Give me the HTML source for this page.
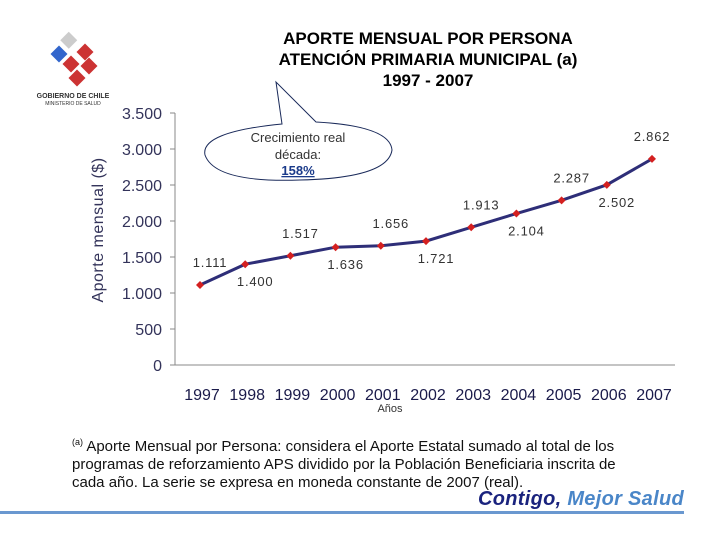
<!DOCTYPE html>
<html><head><meta charset="utf-8"><style>
body{margin:0;width:720px;height:540px;background:#fff;overflow:hidden;font-family:"Liberation Sans",sans-serif;position:relative}
.t{position:absolute}
</style></head><body>
<div class="t" style="left:28px;top:30px;width:90px;height:75px">
<svg width="90" height="75">
<g transform="translate(45,6)">
<rect x="-6" y="0" width="12" height="12" fill="#ccc" transform="rotate(45)"/>
<rect x="6" y="10" width="12" height="12" fill="#c33" transform="rotate(45 12 16)"/>
<rect x="-20" y="12" width="12" height="12" fill="#36c" transform="rotate(45 -14 18)"/>
<rect x="-8" y="22" width="12" height="12" fill="#c33" transform="rotate(45 -2 28)"/>
<rect x="10" y="24" width="12" height="12" fill="#c33" transform="rotate(45 16 30)"/>
<rect x="-2" y="36" width="12" height="12" fill="#c33" transform="rotate(45 4 42)"/>
</g>
<text x="45" y="68" font-size="7" font-weight="bold" text-anchor="middle" fill="#333">GOBIERNO DE CHILE</text>
<text x="45" y="75" font-size="5" text-anchor="middle" fill="#333">MINISTERIO DE SALUD</text>
</svg></div>
<div class="t" style="left:228px;top:28px;width:400px;text-align:center;font-size:17px;font-weight:bold;line-height:21px;color:#000">APORTE MENSUAL POR PERSONA<br>ATENCIÓN PRIMARIA MUNICIPAL (a)<br>1997 - 2007</div>
<svg id="c" class="t" style="left:0;top:0" width="720" height="540"></svg>
<div class="t" style="left:72px;top:433px;width:575px;font-size:15px;line-height:18px;color:#111"><sup style="font-size:9px">(a)</sup> Aporte Mensual por Persona: considera el Aporte Estatal sumado al total de los programas de reforzamiento APS dividido por la Población Beneficiaria inscrita de cada año. La serie se expresa en moneda constante de 2007 (real).</div>
<div class="t" style="left:478px;top:488px;font-size:20px;font-weight:bold;font-style:italic;color:#1a237e;letter-spacing:0.3px">Contigo, <span style="color:#4a86c8">Mejor Salud</span></div>
<div class="t" style="left:0;top:511px;width:684px;height:3px;background:#6a98d0"></div>
<script>
const years=["1997","1998","1999","2000","2001","2002","2003","2004","2005","2006","2007"];
const values=[1111,1400,1517,1636,1656,1721,1913,2104,2287,2502,2862];
const labels=["1.111","1.400","1.517","1.636","1.656","1.721","1.913","2.104","2.287","2.502","2.862"];
const ticks=[0,500,1000,1500,2000,2500,3000,3500];
const tickLabels=["0","500","1.000","1.500","2.000","2.500","3.000","3.500"];
const labelBelow=[false,true,false,true,false,true,false,true,false,true,false];
const NS="http://www.w3.org/2000/svg",svg=document.getElementById('c');
const y=v=>365-v*0.072, x=i=>200+i*45.2;
function mk(t,a,txt){const e=document.createElementNS(NS,t);for(const k in a)e.setAttribute(k,a[k]);if(txt!=null)e.textContent=txt;svg.appendChild(e);return e;}
let e=mk('line',{x1:175,y1:113,x2:175,y2:365,stroke:'#888'});

e=mk('line',{x1:175,y1:365,x2:675,y2:365,stroke:'#888'});

ticks.forEach((t,i)=>{mk('line',{x1:170,y1:y(t),x2:175,y2:y(t),stroke:'#888'});
e=mk('text',{x:162,y:y(t)+6,'font-size':16,'text-anchor':'end',fill:'#33335a'},tickLabels[i]);
});
years.forEach((yr,i)=>{e=mk('text',{x:x(i)+2,y:400,'font-size':16,'text-anchor':'middle',fill:'#1a1a4a'},yr);
});
e=mk('text',{x:390,y:412,'font-size':11,'text-anchor':'middle',fill:'#333'},'Años');

e=mk('text',{x:103,y:230,'font-size':16,'text-anchor':'middle',fill:'#33335a','letter-spacing':'0.5',transform:'rotate(-90 103 230)'},'Aporte mensual ($)');

e=mk('polyline',{points:values.map((v,i)=>x(i)+','+y(v)).join(' '),fill:'none',stroke:'#2e2e78','stroke-width':3});

values.forEach((v,i)=>{const cx=x(i),cy=y(v);
e=mk('polygon',{points:`${cx},${cy-4} ${cx+4},${cy} ${cx},${cy+4} ${cx-4},${cy}`,fill:'#d42020'});

e=mk('text',{x:cx+(i==10?0:10),y:labelBelow[i]?cy+22:cy-18,'font-size':13,'text-anchor':'middle',fill:'#333','letter-spacing':'0.8'},labels[i]);
});
e=mk('path',{d:'M276,82 L282,124 Q200,132 205,155 Q215,183 300,180 Q388,178 392,150 Q390,126 316,122 Z',fill:'#fff',stroke:'#1a2a5a','stroke-width':1});

e=mk('text',{x:298,y:142,'font-size':13,'text-anchor':'middle',fill:'#333'},'Crecimiento real');
e=mk('text',{x:298,y:159,'font-size':13,'text-anchor':'middle',fill:'#333'},'década:');
e=mk('text',{x:298,y:175,'font-size':13,'font-weight':'bold','text-anchor':'middle',fill:'#1a3a8a','text-decoration':'underline'},'158%');

</script>
</body></html>
